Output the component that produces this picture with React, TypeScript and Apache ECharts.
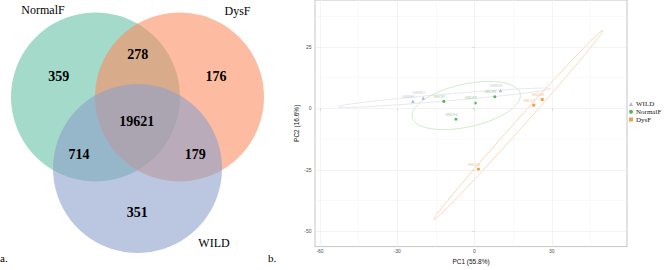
import React, { useEffect, useRef } from "react";
import * as echarts from "echarts";

// ---------- Venn data (panel a) ----------
const vennSets = ["NormalF", "DysF", "WILD"];
const vennRegionNames = ["NormalF only", "DysF only", "WILD only", "NormalF∩DysF", "NormalF∩WILD", "DysF∩WILD", "all"];
const vennRegionCounts = [359, 176, 351, 278, 714, 179, 19621];

// ---------- PCA data (panel b) ----------
const pcaGroups = ["WILD", "NormalF", "DysF"];
const wildNames = ["GWNF1", "GWNS2", "GWNS3"];
const wildPC1 = [-23.9, -19.9, 10.1];
const wildPC2 = [2.85, 4.2, 7.3];
const normalNames = ["GNCF7", "GNCF8", "GNCF6", "GNCF4"];
const normalPC1 = [-11.9, 0.3, 7.9, -7.2];
const normalPC2 = [2.85, 2.2, 4.7, -4.4];
const dysNames = ["GNCD8", "GNCD7", "GNCD4"];
const dysPC1 = [26.3, 23.0, 1.5];
const dysPC2 = [3.6, 1.3, -24.8];
// 95% ellipses (centre, semi-axes, angle) per group
const ellipseCenterPC1 = [-11.75, -3.2, 17.0];
const ellipseCenterPC2 = [4.33, 1.15, -6.8];
const ellipseSemiMajor = [41.4, 21.5, 50.6];
const ellipseSemiMinor = [1.4, 8.7, 1.65];
const ellipseAngleDeg = [5.1, 13.2, 49.6];
const xMajorTicks = [-60, -30, 0, 30];
const xMinorTicks = [-45, -15, 15, 45];
const yMajorTicks = [-50, -25, 0, 25];
const yMinorTicks = [-37.5, -12.5, 12.5, 37.5];
const pc1Title = "PC1 (55.8%)";
const pc2Title = "PC2 (16.6%)";

// ---------- layout (not data) ----------
const vennLayout = {
  circles: [
    { x: 95.5, y: 97, r: 84.5, color: "rgba(102,194,165,0.6)" },
    { x: 179.5, y: 97, r: 84.5, color: "rgba(252,141,98,0.6)" },
    { x: 137.5, y: 168.5, r: 84.5, color: "rgba(141,160,203,0.6)" },
  ],
  setLabels: [
    [43, 9.5],
    [237.5, 11],
    [214, 242.5],
  ],
  regions: [
    [58.7, 76],
    [216, 76],
    [137.3, 212],
    [137.7, 54.7],
    [79, 154.7],
    [195.3, 154.7],
    [136.8, 121.3],
  ],
};

const groupColors = ["#a3a3d3", "#2ea32e", "#eb8a24"];
const labelColors = ["#b3b3da", "#6cc26c", "#eea95a"];
const ellipseColors = ["#d6d6ea", "#aedcae", "#f5bd8c"];
const groupSymbols = ["triangle", "circle", "rect"];

const SERIF = '"Liberation Serif", "DejaVu Serif", serif';
const SANS = '"Liberation Sans", Arial, sans-serif';

function ellipsePoints(cx: number, cy: number, a: number, b: number, deg: number) {
  const t = (deg * Math.PI) / 180;
  const pts: number[][] = [];
  const n = 160;
  for (let i = 0; i <= n; i++) {
    const u = (2 * Math.PI * i) / n;
    const x = a * Math.cos(u);
    const y = b * Math.sin(u);
    pts.push([cx + x * Math.cos(t) - y * Math.sin(t), cy + x * Math.sin(t) + y * Math.cos(t)]);
  }
  return pts;
}

export default function App() {
  const ref = useRef<HTMLDivElement>(null);
  useEffect(() => {
    if (!ref.current) return;
    const chart = echarts.init(ref.current, undefined, { renderer: "svg" });

    const groupsData = [
      { names: wildNames, x: wildPC1, y: wildPC2 },
      { names: normalNames, x: normalPC1, y: normalPC2 },
      { names: dysNames, x: dysPC1, y: dysPC2 },
    ];

    const scatterSeries = pcaGroups.map((g, gi) => ({
      name: g,
      type: "scatter",
      xAxisIndex: 1,
      yAxisIndex: 1,
      symbol: groupSymbols[gi],
      symbolSize: gi === 0 ? 3.5 : 3,
      itemStyle: { color: groupColors[gi] },
      z: 4,
      label: {
        show: true,
        formatter: "{b}",
        position: "top",
        distance: 1,
        offset: [-4.5, 0],
        fontSize: 3.5,
        fontFamily: SANS,
        color: labelColors[gi],
      },
      data: groupsData[gi].names.map((n, i) => ({ name: n, value: [groupsData[gi].x[i], groupsData[gi].y[i]] })),
    }));

    const ellipseSeries = pcaGroups.map((g, gi) => ({
      name: g + " ellipse",
      type: "line",
      xAxisIndex: 1,
      yAxisIndex: 1,
      showSymbol: false,
      symbol: "none",
      silent: true,
      z: 3,
      color: ellipseColors[gi],
      itemStyle: { color: ellipseColors[gi] },
      lineStyle: { color: ellipseColors[gi], width: 0.6, opacity: 1 },
      emphasis: { disabled: true },
      data: ellipsePoints(
        ellipseCenterPC1[gi],
        ellipseCenterPC2[gi],
        ellipseSemiMajor[gi],
        ellipseSemiMinor[gi],
        ellipseAngleDeg[gi]
      ),
    }));

    const gridLineSeries = {
      name: "gridlines",
      type: "line",
      xAxisIndex: 1,
      yAxisIndex: 1,
      data: [],
      silent: true,
      z: 1,
      markLine: {
        silent: true,
        symbol: "none",
        animation: false,
        label: { show: false },
        lineStyle: { color: "#ebebeb", width: 0.6, type: "solid" },
        data: [
          ...xMajorTicks.map((v) => ({ xAxis: v })),
          ...yMajorTicks.map((v) => ({ yAxis: v })),
          ...xMinorTicks.map((v) => ({ xAxis: v, lineStyle: { color: "#f3f3f3", width: 0.5, type: "solid" } })),
          ...yMinorTicks.map((v) => ({ yAxis: v, lineStyle: { color: "#f3f3f3", width: 0.5, type: "solid" } })),
        ],
      },
    };

    const vennCircles = {
      type: "custom",
      xAxisIndex: 0,
      yAxisIndex: 0,
      coordinateSystem: "cartesian2d",
      silent: true,
      z: 2,
      data: vennSets.map((s, i) => ({ name: s, value: [vennLayout.circles[i].x, vennLayout.circles[i].y, vennLayout.circles[i].r, i] })),
      renderItem: (params: any, api: any) => {
        const c = api.coord([api.value(0), api.value(1)]);
        const r = api.size([api.value(2), 0])[0];
        const idx = api.value(3);
        return {
          type: "circle",
          shape: { cx: c[0], cy: c[1], r },
          style: { fill: vennLayout.circles[idx].color, stroke: "none" },
        };
      },
    };

    const textItem = (texts: string[], size: number, weight: string) => (params: any, api: any) => {
      const c = api.coord([api.value(0), api.value(1)]);
      return {
        type: "text",
        x: c[0],
        y: c[1],
        style: {
          text: texts[params.dataIndex],
          fontSize: size,
          fontWeight: weight,
          fontFamily: SERIF,
          fill: "#000",
          align: "center",
          verticalAlign: "middle",
          textAlign: "center",
          textVerticalAlign: "middle",
        },
      };
    };

    const vennSetLabels = {
      type: "custom",
      xAxisIndex: 0,
      yAxisIndex: 0,
      coordinateSystem: "cartesian2d",
      silent: true,
      z: 5,
      data: vennSets.map((s, i) => ({ name: s, value: vennLayout.setLabels[i] })),
      renderItem: textItem(vennSets, 12, "normal"),
    };

    const countTexts = vennRegionCounts.map((c) => String(c));
    const vennCounts = {
      type: "custom",
      xAxisIndex: 0,
      yAxisIndex: 0,
      coordinateSystem: "cartesian2d",
      silent: true,
      z: 5,
      data: vennRegionCounts.map((c, i) => ({ name: vennRegionNames[i], value: vennLayout.regions[i] })),
      renderItem: textItem(countTexts, 14, "bold"),
    };

    const option: any = {
      animation: false,
      backgroundColor: "#ffffff",
      grid: [
        { left: 0, top: 0, width: 280, height: 270, show: false },
        {
          left: 315,
          right: 42,
          top: -3,
          bottom: 16,
          show: true,
          borderColor: "#b5b5b5",
          borderWidth: 0.8,
          backgroundColor: "transparent",
        },
      ],
      xAxis: [
        { gridIndex: 0, type: "value", min: 0, max: 280, show: false },
        {
          gridIndex: 1,
          type: "value",
          min: -61.9,
          max: 59.2,
          axisLine: { show: false },
          splitLine: { show: false },
          axisTick: { show: true, customValues: xMajorTicks, length: 2, lineStyle: { color: "#555", width: 0.5 } },
          axisLabel: { customValues: xMajorTicks, fontSize: 5, color: "#4d4d4d", margin: 1.5, fontFamily: SANS },
          name: pc1Title,
          nameLocation: "middle",
          nameGap: 9.5,
          nameTextStyle: { fontSize: 6.5, color: "#111", fontFamily: SANS },
        },
      ],
      yAxis: [
        { gridIndex: 0, type: "value", min: 0, max: 270, inverse: true, show: false },
        {
          gridIndex: 1,
          type: "value",
          min: -56.25,
          max: 44.1,
          axisLine: { show: false },
          splitLine: { show: false },
          axisTick: { show: true, customValues: yMajorTicks, length: 2, lineStyle: { color: "#555", width: 0.5 } },
          axisLabel: { customValues: yMajorTicks, fontSize: 5, color: "#4d4d4d", margin: 3.5, fontFamily: SANS },
          name: pc2Title,
          nameLocation: "middle",
          nameGap: 9,
          nameRotate: 90,
          nameTextStyle: { fontSize: 6.5, color: "#111", fontFamily: SANS },
        },
      ],
      legend: {
        orient: "vertical",
        left: 629,
        top: 100.6,
        padding: 0,
        itemWidth: 4,
        itemHeight: 4,
        itemGap: 0.7,
        selectedMode: false,
        textStyle: { fontSize: 7, fontFamily: SERIF, color: "#1a1a1a", lineHeight: 5, padding: [0, 0, 0, -2] },
        data: pcaGroups.map((g, i) => ({ name: g, icon: groupSymbols[i] })),
      },
      graphic: [
        { type: "text", x: 0, y: 252, style: { text: "a.", font: `11px ${SERIF}`, fill: "#000" } },
        { type: "text", x: 268, y: 252, style: { text: "b.", font: `11px ${SERIF}`, fill: "#000" } },
      ],
      series: [vennCircles, vennSetLabels, vennCounts, gridLineSeries, ...ellipseSeries, ...scatterSeries],
    };

    chart.setOption(option);
    return () => chart.dispose();
  }, []);

  return <div ref={ref} style={{ width: 669, height: 270, position: "absolute", left: 0, top: 0 }} />;
}
